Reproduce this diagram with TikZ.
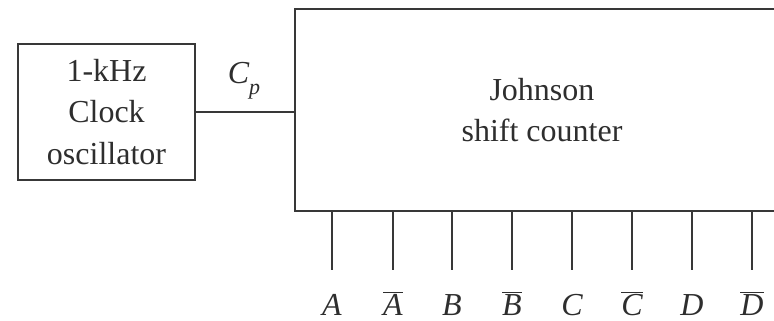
\documentclass[tikz,border=0pt]{standalone}
\usepackage{fontspec}
\setmainfont{Liberation Serif}
\newcommand\ovl[1]{$\overline{\hbox{\itshape #1}}$}
\begin{document}
\begin{tikzpicture}[x=1pt,y=-1pt,
  line/.style={draw=black!78,line width=2pt},
  lbl/.style={text=black!82,font=\fontsize{32}{41.5}\selectfont,inner sep=0pt},
  outl/.style={text=black!82,font=\fontsize{32}{36}\selectfont\itshape,inner sep=0pt,anchor=base}]
\useasboundingbox (0,0) rectangle (774,321);
\clip (0,0) rectangle (774,321);
\node[line,minimum width=177pt,minimum height=135pt,inner sep=0pt] (osc) at (106.5,112) {};
\node[lbl,align=center] (osct) at (106.5,112) {1-kHz\\Clock\\oscillator};
\node[line,minimum width=505pt,minimum height=202pt,inner sep=0pt] (jsc) at (547.5,110) {};
\node[lbl,align=center] (jsct) at (542,110) {Johnson\\shift counter};
\draw[line] (osc.east) -- (osc.east -| jsc.west);
\node[text=black!82,inner sep=0pt] (cp) at (244,81) {\fontsize{32}{36}\selectfont\itshape C\raisebox{-0.35em}{\fontsize{22}{22}\selectfont p}};
\foreach \i/\x/\t in {1/332/A,2/393/\ovl{A},3/452/B,4/512/\ovl{B},5/572/C,6/632/\ovl{C},7/692/D,8/752/\ovl{D}}{
  \coordinate (e\i) at (\x,270);
  \draw[line] (jsc.south -| e\i) -- (e\i);
  \node[outl] (o\i) at (\x,315) {\t};
}
\end{tikzpicture}
\end{document}
